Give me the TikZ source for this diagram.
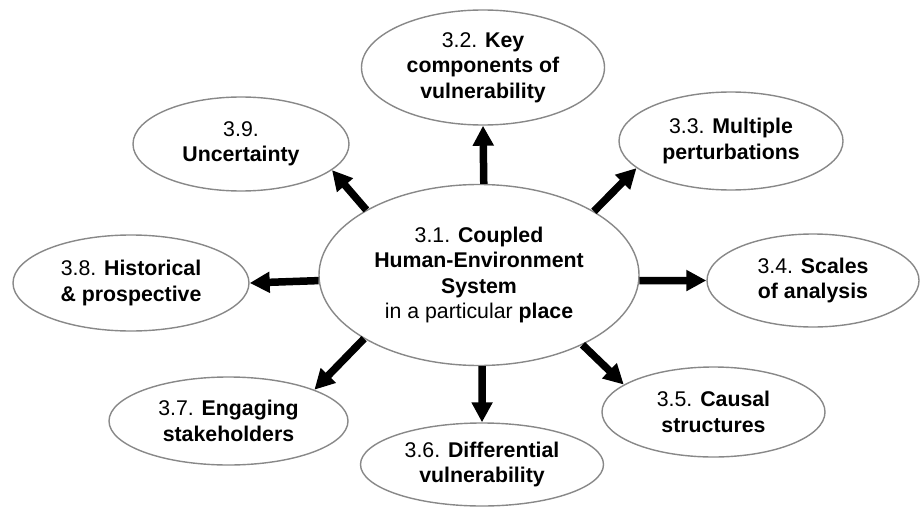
\documentclass[tikz,border=0pt]{standalone}
\usepackage{fontspec}
\setmainfont{Liberation Sans}
\usetikzlibrary{arrows.meta,shapes.geometric}
\definecolor{ringgray}{RGB}{136,136,136}
\begin{document}
\begin{tikzpicture}[x=1pt,y=-1pt,
  topic/.style={ellipse, draw=ringgray, line width=1.4pt, fill=white,
    inner sep=0pt, align=center, font=\fontsize{21.3}{25.5}\selectfont},
  link/.style={line width=7.5pt, -{Triangle[length=20pt,width=20pt]}}]
\useasboundingbox (0,0) rectangle (920,508);

% central system
\node[topic, minimum width=320pt, minimum height=181pt] (c) at (479,275)
  {3.1. \textbf{Coupled}\\\textbf{Human-Environment}\\\textbf{System}\\in a particular \textbf{place}};

% surrounding themes
\node[topic, minimum width=243pt, minimum height=115pt] (n32) at (483,67.5)
  {3.2. \textbf{Key}\\\textbf{components of}\\\textbf{vulnerability}};
\node[topic, minimum width=224pt, minimum height=98pt] (n33) at (731,141)
  {3.3. \textbf{Multiple}\\\textbf{perturbations}};
\node[topic, minimum width=212pt, minimum height=93pt] (n34) at (813,280.5)
  {3.4. \textbf{Scales}\\\textbf{of analysis}};
\node[topic, minimum width=223pt, minimum height=90pt] (n35) at (713.5,412)
  {3.5. \textbf{Causal}\\\textbf{structures}};
\node[topic, minimum width=243pt, minimum height=83pt] (n36) at (482,464.5)
  {3.6. \textbf{Differential}\\\textbf{vulnerability}};
\node[topic, minimum width=239pt, minimum height=88pt] (n37) at (228.5,421)
  {3.7. \textbf{Engaging}\\\textbf{stakeholders}};
\node[topic, minimum width=236pt, minimum height=96pt] (n38) at (131,283)
  {3.8. \textbf{Historical}\\\textbf{\& prospective}};
\node[topic, minimum width=216pt, minimum height=94pt] (n39) at (241,144)
  {3.9.\\\textbf{Uncertainty}};

% links from the centre
\draw[link] (c.87.5) -- (n32.south);
\draw[link] (c.29) -- (n33.196);
\draw[link] (c.-2) -- (n34.west);
\draw[link] (c.-34) -- (n35.163);
\draw[link] (c.-88) -- (n36.north);
\draw[link] (c.209) -- (n37.20);
\draw[link] (c.182) -- (n38.east);
\draw[link] (c.150) -- (n39.-16);
\end{tikzpicture}
\end{document}
